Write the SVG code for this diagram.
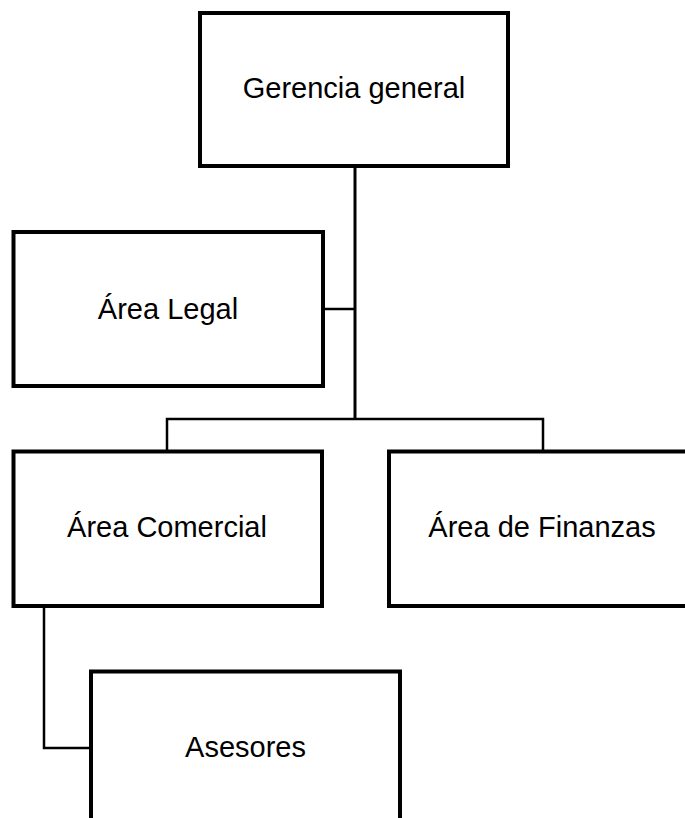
<svg xmlns="http://www.w3.org/2000/svg" width="685" height="818" viewBox="0 0 685 818">
  <style>
    .box { fill: #ffffff; stroke: #000000; stroke-width: 4; }
    .lbl { font-family: "Liberation Sans", Arial, sans-serif; font-size: 29px; fill: #000000; text-anchor: middle; }
    .con { fill: none; stroke: #000000; stroke-width: 2.5; }
    .trunk { fill: none; stroke: #000000; stroke-width: 3; }
  </style>
  <rect width="685" height="818" fill="#ffffff"/>
  <g id="connectors">
    <line class="trunk" x1="355" y1="166" x2="355" y2="419"/>
    <line class="con" x1="323" y1="309" x2="355" y2="309"/>
    <polyline class="con" points="167,451 167,419 543,419 543,451"/>
    <polyline class="con" points="44,606 44,748 91,748"/>
  </g>
  <g id="gerencia">
    <rect class="box" x="200" y="13" width="308" height="153"/>
    <text class="lbl" x="354" y="98">Gerencia general</text>
  </g>
  <g id="legal">
    <rect class="box" x="13.5" y="232" width="309.5" height="154"/>
    <text class="lbl" x="168" y="319">Área Legal</text>
  </g>
  <g id="comercial">
    <rect class="box" x="13.5" y="451.5" width="308.5" height="154.5"/>
    <text class="lbl" x="167" y="537">Área Comercial</text>
  </g>
  <g id="finanzas">
    <rect class="box" x="389" y="451.5" width="306" height="154.5"/>
    <text class="lbl" x="542" y="537">Área de Finanzas</text>
  </g>
  <g id="asesores">
    <rect class="box" x="91" y="671.5" width="309" height="160"/>
    <text class="lbl" x="245.5" y="757">Asesores</text>
  </g>
</svg>
